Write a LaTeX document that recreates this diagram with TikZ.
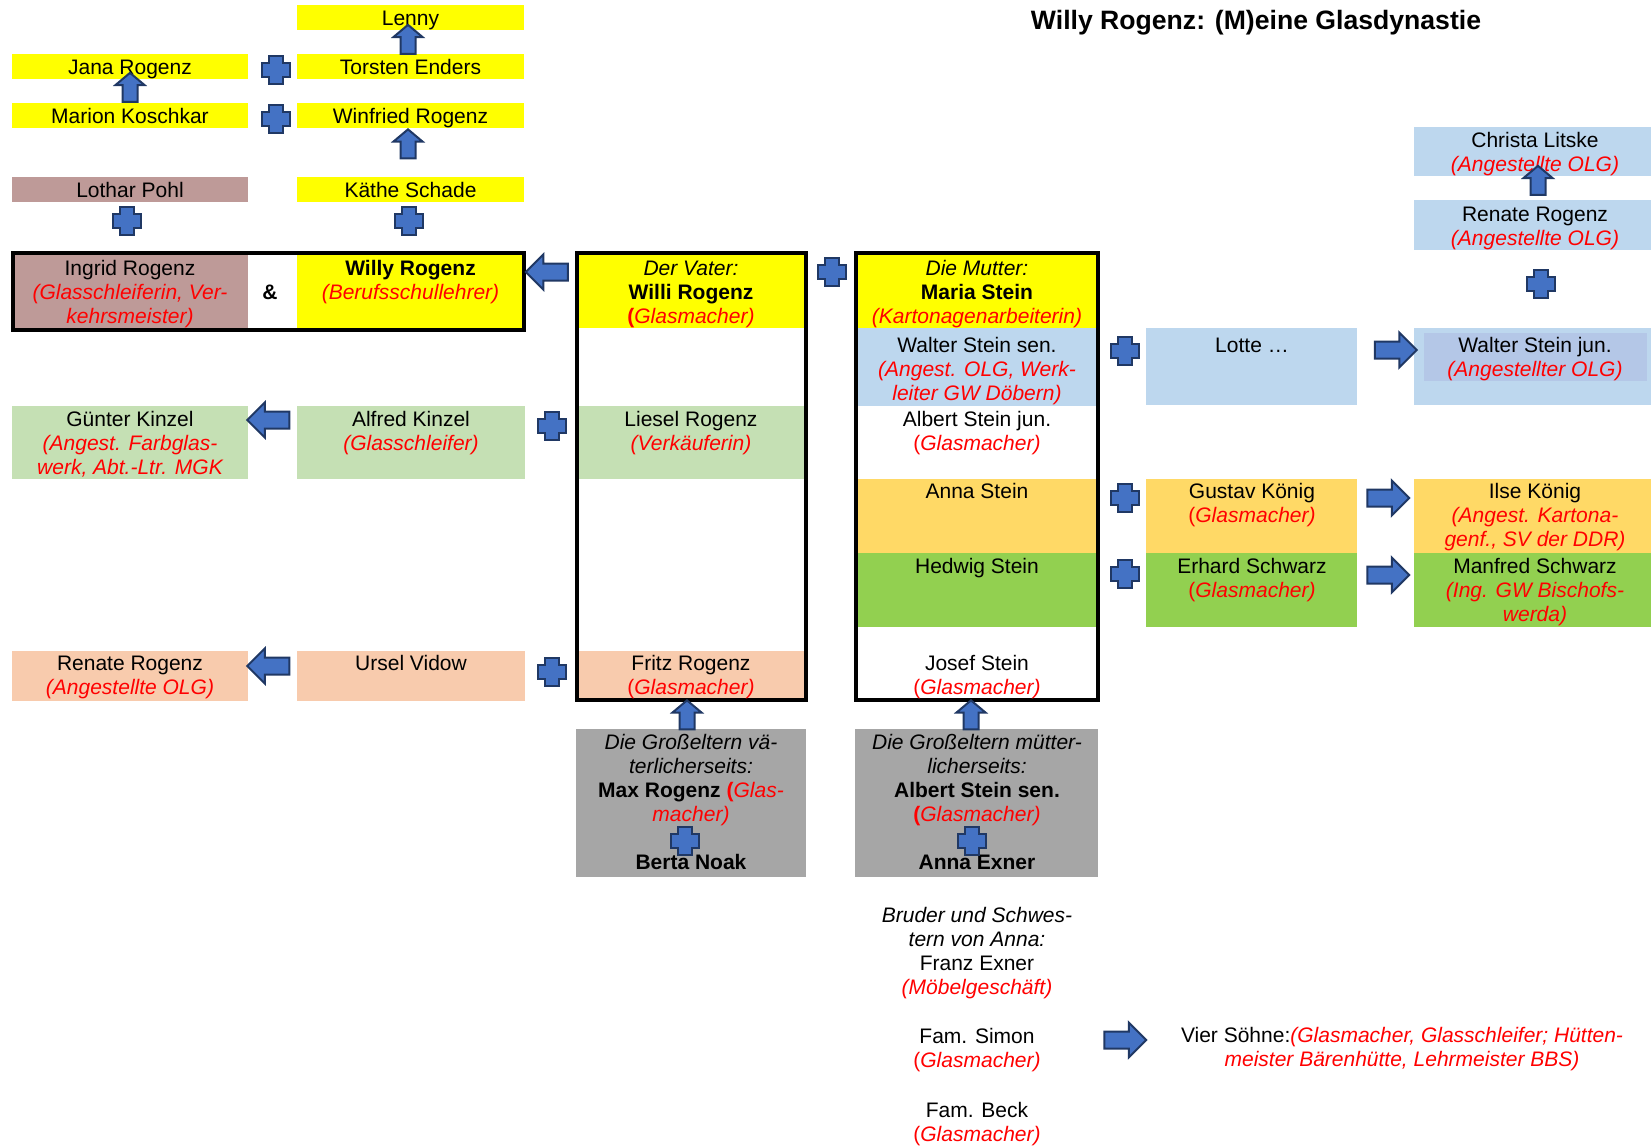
\documentclass[tikz,border=0pt]{standalone}
\usepackage{fontspec}
\setmainfont{Liberation Sans}
\usetikzlibrary{fit,shapes.arrows}

\definecolor{jobred}{HTML}{FF0000}
\definecolor{gelb}{HTML}{FFFF00}
\definecolor{rose}{HTML}{BE9A98}
\definecolor{hellgruen}{HTML}{C5E0B4}
\definecolor{pfirsich}{HTML}{F8CBAD}
\definecolor{hellblau}{HTML}{BDD7EE}
\definecolor{blaugrau}{HTML}{B4C7E7}
\definecolor{gold}{HTML}{FFD966}
\definecolor{gruen}{HTML}{92D050}
\definecolor{grau}{HTML}{A6A6A6}
\definecolor{pfeilblau}{HTML}{4472C4}
\definecolor{pfeilrand}{HTML}{203864}

\newcommand{\beruf}[1]{\textcolor{jobred}{\itshape #1}}
\newcommand{\klauf}{\textcolor{jobred}{(}}
\newcommand{\klaufb}{\textcolor{jobred}{\bfseries(}}
\newcommand{\hoch}{\rule{0pt}{10pt}}

\tikzset{
  cell/.style={inner sep=0pt, outer sep=0pt},
  rahmen/.style={draw=black, line width=2pt, inner sep=0pt, outer sep=0pt},
  txt/.style={font=\fontsize{10.5}{12}\selectfont, align=center, anchor=north,
    inner sep=0pt, execute at begin node=\hoch},
  blockpfeil/.style={single arrow, fill=pfeilblau, draw=pfeilrand, line width=1pt,
    inner sep=3.75pt, outer sep=0pt, single arrow head extend=4.5pt, minimum height=21pt},
  hochpfeil/.style={blockpfeil, shape border rotate=90, inner sep=3.25pt,
    single arrow head extend=3.5pt, minimum height=14.5pt, single arrow tip angle=100},
  plussign/.pic={
    \path[fill=pfeilblau, draw=pfeilrand, line width=1.2pt]
      (-7.25,-14) -- (7.25,-14) -- (7.25,-7.25) -- (14,-7.25) -- (14,7.25)
      -- (7.25,7.25) -- (7.25,14) -- (-7.25,14) -- (-7.25,7.25) -- (-14,7.25)
      -- (-14,-7.25) -- (-7.25,-7.25) -- cycle;
  }
}

\begin{document}
\begin{tikzpicture}[x=0.5pt, y=-0.5pt]
\useasboundingbox (0,0) rectangle (1651,1147);
% title
\node[font=\bfseries\fontsize{13.3}{16}\selectfont, anchor=base, inner sep=0pt] (titel) at (1256,29.5) {Willy Rogenz: (M)eine Glasdynastie};

% children and grandchildren of Willy
\node[cell, fill=gelb, fit={(297,5) (524,30)}] (lenny) {};
\node[cell, fill=gelb, fit={(12,54) (248,79)}] (jana) {};
\node[cell, fill=gelb, fit={(297,54) (524,79)}] (torsten) {};
\node[cell, fill=gelb, fit={(12,103) (248,128)}] (marion) {};
\node[cell, fill=gelb, fit={(297,103) (524,128)}] (winfried) {};
\node[cell, fill=rose, fit={(12,177) (248,202)}] (lothar) {};
\node[cell, fill=gelb, fit={(297,177) (524,202)}] (kaethe) {};
\node[cell, fill=rose, fit={(13,253) (248,330)}] (ingrid) {};
\node[cell, fill=gelb, fit={(297,253) (524,330)}] (willy) {};
\node[rahmen, fit={(13.4,252.7) (524,329.7)}] (paar) {};

% siblings of the father (left)
\node[cell, fill=hellgruen, fit={(12,406) (248,479)}] (guenter) {};
\node[cell, fill=hellgruen, fit={(297,406) (525,479)}] (alfred) {};
\node[cell, fill=pfirsich, fit={(12,651) (248,701)}] (renateL) {};
\node[cell, fill=pfirsich, fit={(297,651) (525,701)}] (ursel) {};

% father column
\node[cell, fill=gelb, fit={(577,252.7) (805.5,328)}] (vater) {};
\node[cell, fill=hellgruen, fit={(577,406) (805.5,479)}] (liesel) {};
\node[cell, fill=pfirsich, fit={(577,651) (805.5,700)}] (fritz) {};
\node[rahmen, fit={(577,252.7) (805.5,700)}] (vaterseite) {};

% mother column
\node[cell, fill=gelb, fit={(856,252.7) (1098,328)}] (mutter) {};
\node[cell, fill=hellblau, fit={(856,328) (1098,406)}] (walterS) {};
\node[cell, fill=gold, fit={(856,479) (1098,553)}] (anna) {};
\node[cell, fill=gruen, fit={(856,553) (1098,627)}] (hedwig) {};
\node[rahmen, fit={(856,252.7) (1098,700)}] (mutterseite) {};

% right side
\node[cell, fill=hellblau, fit={(1414,127) (1651,176)}] (christa) {};
\node[cell, fill=hellblau, fit={(1414,200) (1651,250)}] (renateR) {};
\node[cell, fill=hellblau, fit={(1146,328) (1357,405)}] (lotte) {};
\node[cell, fill=hellblau, fit={(1414,328) (1651,405)}] (walterJ) {};
\node[cell, fill=blaugrau, fit={(1424,333) (1647,381)}] (walterJin) {};
\node[cell, fill=gold, fit={(1146,479) (1357,553)}] (gustav) {};
\node[cell, fill=gold, fit={(1414,479) (1651,553)}] (ilse) {};
\node[cell, fill=gruen, fit={(1146,553) (1357,627)}] (erhard) {};
\node[cell, fill=gruen, fit={(1414,553) (1651,627)}] (manfred) {};

% grandparents
\node[cell, fill=grau, fit={(576,729) (806,877)}] (gpV) {};
\node[cell, fill=grau, fit={(855,729) (1098,877)}] (gpM) {};

% texts
\node[txt] (lenny-t) at (410.5,5) {Lenny};
\node[txt] (jana-t) at (130,54) {Jana Rogenz};
\node[txt] (torsten-t) at (410.5,54) {Torsten Enders};
\node[txt] (marion-t) at (130,103) {Marion Koschkar};
\node[txt] (winfried-t) at (410.5,103) {Winfried Rogenz};
\node[txt] (lothar-t) at (130,177) {Lothar Pohl};
\node[txt] (kaethe-t) at (410.5,177) {Käthe Schade};
\node[txt] (ingrid-t) at (130,255) {\hoch Ingrid Rogenz\\\beruf{(Glasschleiferin, Ver-}\\\beruf{kehrsmeister)}};
\node[txt] (und) at (270,279) {\textbf{\&}};
\node[txt] (willy-t) at (410.5,255) {\hoch\textbf{Willy Rogenz}\\\beruf{(Berufsschullehrer)}};
\node[txt] (guenter-t) at (130,406) {\hoch Günter Kinzel\\\beruf{(Angest. Farbglas-}\\\beruf{werk, Abt.-Ltr. MGK}};
\node[txt] (alfred-t) at (411,406) {\hoch Alfred Kinzel\\\beruf{(Glasschleifer)}};
\node[txt] (renateL-t) at (130,650) {\hoch Renate Rogenz\\\beruf{(Angestellte OLG)}};
\node[txt] (ursel-t) at (411,650) {Ursel Vidow};
\node[txt] (vater-t) at (691,255) {\hoch{\itshape Der Vater:}\\\textbf{Willi Rogenz}\\\klaufb\beruf{Glasmacher)}};
\node[txt] (liesel-t) at (691,406) {\hoch Liesel Rogenz\\\beruf{(Verkäuferin)}};
\node[txt] (fritz-t) at (691,650) {\hoch Fritz Rogenz\\\klauf\beruf{Glasmacher)}};
\node[txt] (mutter-t) at (977,255) {\hoch{\itshape Die Mutter:}\\\textbf{Maria Stein}\\\beruf{(Kartonagenarbeiterin)}};
\node[txt] (walterS-t) at (977,332) {\hoch Walter Stein sen.\\\beruf{(Angest. OLG, Werk-}\\\beruf{leiter GW Döbern)}};
\node[txt] (albertJ-t) at (977,406) {\hoch Albert Stein jun.\\\klauf\beruf{Glasmacher)}};
\node[txt] (anna-t) at (977,478) {Anna Stein};
\node[txt] (hedwig-t) at (977,553) {Hedwig Stein};
\node[txt] (josef-t) at (977,650) {\hoch Josef Stein\\\klauf\beruf{Glasmacher)}};
\node[txt] (christa-t) at (1535,127) {\hoch Christa Litske\\\beruf{(Angestellte OLG)}};
\node[txt] (renateR-t) at (1535,201) {\hoch Renate Rogenz\\\beruf{(Angestellte OLG)}};
\node[txt] (lotte-t) at (1252,332) {Lotte \dots};
\node[txt] (walterJ-t) at (1535,332) {\hoch Walter Stein jun.\\\beruf{(Angestellter OLG)}};
\node[txt] (gustav-t) at (1252,478) {\hoch Gustav König\\\klauf\beruf{Glasmacher)}};
\node[txt] (ilse-t) at (1535,478) {\hoch Ilse König\\\beruf{(Angest. Kartona-}\\\beruf{genf., SV der DDR)}};
\node[txt] (erhard-t) at (1252,553) {\hoch Erhard Schwarz\\\klauf\beruf{Glasmacher)}};
\node[txt] (manfred-t) at (1535,553) {\hoch Manfred Schwarz\\\beruf{(Ing. GW Bischofs-}\\\beruf{werda)}};
\node[txt] (gpV-t) at (691,729) {\hoch{\itshape Die Großeltern vä-}\\{\itshape terlicherseits:}\\\textbf{Max Rogenz }\klaufb\beruf{Glas-}\\\beruf{macher)}\\[12pt]\textbf{Berta Noak}};
\node[txt] (gpM-t) at (977,729) {\hoch{\itshape Die Großeltern mütter-}\\{\itshape licherseits:}\\\textbf{Albert Stein sen.}\\\klaufb\beruf{Glasmacher)}\\[12pt]\textbf{Anna Exner}};
\node[txt] (bruder-t) at (977,902) {\hoch{\itshape Bruder und Schwes-}\\{\itshape tern von Anna:}\\Franz Exner\\\beruf{(Möbelgeschäft)}};
\node[txt] (simon-t) at (977,1023) {\hoch Fam. Simon\\\klauf\beruf{Glasmacher)}};
\node[txt] (beck-t) at (977,1097) {\hoch Fam. Beck\\\klauf\beruf{Glasmacher)}};
\node[txt] (soehne-t) at (1402,1022) {\hoch Vier Söhne:\beruf{(Glasmacher, Glasschleifer; Hütten-}\\\beruf{meister Bärenhütte, Lehrmeister BBS)}};

% block arrows
\node[blockpfeil, shape border rotate=180] (p-vater) at (551,272) {};
\node[blockpfeil, shape border rotate=180] (p-alfred) at (272.5,420) {};
\node[blockpfeil, shape border rotate=180] (p-ursel) at (272.5,666) {};
\node[blockpfeil] (p-lotte) at (1391.5,350) {};
\node[blockpfeil] (p-gustav) at (1384,498) {};
\node[blockpfeil] (p-erhard) at (1384,575) {};
\node[blockpfeil] (p-simon) at (1121,1040) {};
\node[hochpfeil] (p-torsten) at (408,42.5) {};
\node[hochpfeil] (p-marion) at (130,90.5) {};
\node[hochpfeil] (p-kaethe) at (408,147) {};
\node[hochpfeil] (p-renate) at (1538,183.5) {};
\node[hochpfeil] (p-gpV) at (687,718) {};
\node[hochpfeil] (p-gpM) at (971,718) {};

% plus signs
\pic (k-jana) at (276,70) {plussign};
\pic (k-marion) at (276,119) {plussign};
\pic (k-lothar) at (127,221) {plussign};
\pic (k-kaethe) at (409,221) {plussign};
\pic (k-eltern) at (832,272) {plussign};
\pic (k-alfred) at (552,426) {plussign};
\pic (k-ursel) at (552,672) {plussign};
\pic (k-lotte) at (1125,351) {plussign};
\pic (k-gustav) at (1125,498) {plussign};
\pic (k-erhard) at (1125,574) {plussign};
\pic (k-renate) at (1541,284) {plussign};
\pic (k-gpV) at (685,841) {plussign};
\pic (k-gpM) at (972,841) {plussign};
\end{tikzpicture}
\end{document}
